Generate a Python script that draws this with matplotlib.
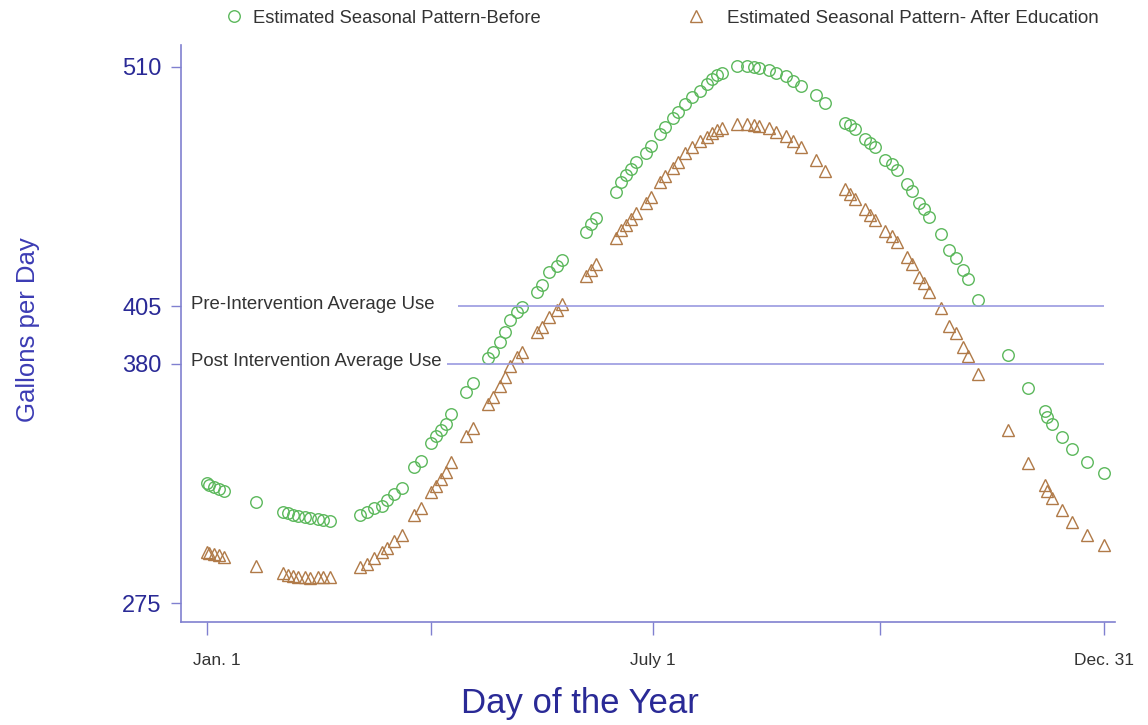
import matplotlib
matplotlib.use('Agg')
import matplotlib.pyplot as plt
import matplotlib.transforms as mtransforms

# dias do ano com leitura
dias = [1, 2, 4, 6, 8, 21, 32, 34, 36, 38, 41, 43, 46, 48, 51, 63, 66, 69, 72, 74,
        77, 80, 85, 88, 92, 94, 96, 98, 100, 106, 109, 115, 117, 120, 122, 124, 127, 129, 135, 137,
        140, 143, 145, 155, 157, 159, 167, 169, 171, 173, 175, 179, 181, 185, 187, 190, 192, 195, 198, 201,
        204, 206, 208, 210, 216, 220, 223, 225, 229, 232, 236, 239, 242, 248, 252, 260, 262, 264, 268, 270,
        272, 276, 279, 281, 285, 287, 290, 292, 294, 299, 302, 305, 308, 310, 314, 326, 334, 341, 342, 344,
        348, 352, 358, 365]

antes = [327.6, 326.7, 325.9, 325.0, 324.1, 319.3, 314.9, 314.5, 313.6, 313.1,
         312.7, 312.3, 311.8, 311.4, 311.0, 313.6, 314.9, 316.7, 317.5, 320.2,
         322.8, 325.4, 334.6, 337.3, 345.1, 348.2, 350.8, 353.5, 357.9, 367.5,
         371.5, 382.4, 385.0, 389.4, 393.8, 399.1, 402.6, 404.8, 411.4, 414.4,
         420.1, 422.8, 425.4, 437.7, 441.2, 443.8, 455.2, 459.6, 462.6, 465.3,
         468.3, 472.3, 475.4, 480.6, 483.7, 487.6, 490.3, 493.8, 496.8, 499.5,
         502.5, 504.7, 506.5, 507.4, 510.4, 510.4, 510.0, 509.6, 508.7, 507.4,
         506.1, 503.9, 501.7, 497.7, 494.2, 485.4, 484.6, 482.8, 478.4, 476.7,
         474.9, 469.2, 467.5, 464.8, 458.7, 455.6, 450.4, 447.7, 444.2, 436.8,
         429.8, 426.3, 421.0, 417.1, 407.8, 383.7, 369.3, 359.2, 356.5, 353.5,
         347.8, 342.5, 336.8, 332.0]

depois = [297.4, 296.9, 296.5, 296.0, 295.2, 291.2, 288.2, 287.3, 286.8, 286.4,
          286.4, 286.0, 286.4, 286.4, 286.4, 290.8, 292.1, 294.7, 297.4, 299.1,
          302.2, 304.8, 313.6, 316.7, 323.7, 326.3, 329.4, 332.4, 336.8, 348.2,
          351.7, 362.2, 365.3, 370.1, 374.1, 378.9, 382.9, 385.0, 393.8, 396.0,
          400.4, 403.5, 406.1, 418.4, 421.0, 423.6, 435.0, 438.5, 440.7, 443.4,
          446.0, 450.4, 453.0, 459.6, 462.2, 465.7, 468.3, 472.3, 474.9, 477.6,
          479.3, 481.1, 482.4, 483.3, 485.0, 485.0, 484.6, 484.1, 483.3, 481.5,
          479.7, 477.6, 474.9, 469.2, 464.4, 456.5, 454.3, 452.1, 447.7, 445.1,
          442.9, 438.1, 435.9, 433.3, 426.7, 423.6, 417.9, 415.3, 411.4, 404.3,
          396.4, 393.4, 387.2, 383.3, 375.4, 350.8, 336.4, 326.7, 324.1, 321.0,
          315.8, 310.5, 304.8, 300.4]

# linhas de referência
niveis_ref = [405, 380]
inicio_ref = [103, 98.5]
rotulos_ref = ['Pre-Intervention Average Use', 'Post Intervention Average Use']

xticks = [1, 92, 182, 274, 365]
xtick_labels = ['Jan. 1', '', 'July 1', '', 'Dec. 31']
yticks = [275, 380, 405, 510]

cor_eixo = '#8080d0'
cor_azul = '#2a2a96'
cor_verde = '#5cb85c'
cor_marrom = '#b07a48'

plt.rcParams['font.family'] = ['Liberation Sans', 'DejaVu Sans']

fig = plt.figure(figsize=(11.48, 7.25), dpi=100)
ax = fig.add_axes([0.1577, 0.142, 0.8136, 0.796])

l1, = ax.plot(dias, antes, linestyle='none', marker='o', markersize=8.3,
              markerfacecolor='none', markeredgecolor=cor_verde, markeredgewidth=1.0)
l2, = ax.plot(dias, depois, linestyle='none', marker='^', markersize=9,
              markerfacecolor='none', markeredgecolor=cor_marrom, markeredgewidth=1.0)

# médias antes/depois
for nivel, ini, rot in zip(niveis_ref, inicio_ref, rotulos_ref):
    ax.hlines(nivel, ini, 365, color='#9a9ae0', linewidth=1.2)
    ax.text(-5.5, nivel + 1, rot, ha='left', va='center', fontsize=13.4, color='#333333')

ax.set_xlim(-9.5, 369.5)
ax.set_ylim(266.7, 519.6)

ax.set_xticks(xticks)
ax.set_xticklabels(xtick_labels)
ax.set_yticks(yticks)
ax.set_yticklabels([str(v) for v in yticks])

for lado in ['top', 'right']:
    ax.spines[lado].set_visible(False)
for lado in ['left', 'bottom']:
    ax.spines[lado].set_color(cor_eixo)
    ax.spines[lado].set_linewidth(1.2)

ax.tick_params(axis='y', direction='out', length=7, width=1, color=cor_eixo,
               labelsize=17, labelcolor=cor_azul, pad=7)
ax.tick_params(axis='x', direction='out', length=9, width=1, color=cor_eixo,
               labelsize=12.5, labelcolor='#333333', pad=13)

# o rótulo "Jan. 1" fica um pouco à direita do tick
rot0 = ax.get_xticklabels()[0]
rot0.set_transform(rot0.get_transform() + mtransforms.ScaledTranslation(0.1, 0, fig.dpi_scale_trans))

ax.set_xlabel('Day of the Year', fontsize=25, color=cor_azul)
ax.xaxis.set_label_coords(0.427, -0.112)
ax.set_ylabel('Gallons per Day', fontsize=18.5, color='#3c3cb4')
ax.yaxis.set_label_coords(-0.151, 0.506)

# legenda em duas partes no topo
leg1 = fig.legend([l1], ['Estimated Seasonal Pattern-Before'], loc='center left',
                  bbox_to_anchor=(0.1958, 0.975), frameon=False, fontsize=13.2,
                  handlelength=1, handletextpad=0.53, borderpad=0, borderaxespad=0)
leg2 = fig.legend([l2], ['Estimated Seasonal Pattern- After Education'], loc='center left',
                  bbox_to_anchor=(0.5982, 0.975), frameon=False, fontsize=13.6,
                  handlelength=1, handletextpad=1.12, borderpad=0, borderaxespad=0)
for leg in (leg1, leg2):
    for t in leg.get_texts():
        t.set_color('#333333')

fig.savefig('out.png', dpi=100)
